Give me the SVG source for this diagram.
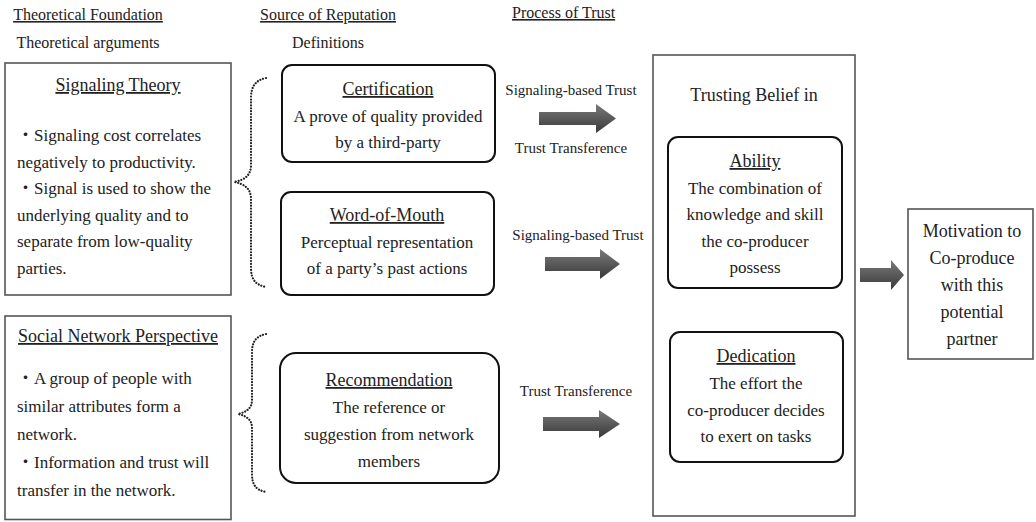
<svg xmlns="http://www.w3.org/2000/svg" width="1036" height="522" viewBox="0 0 1036 522">
<style>
text{font-family:"Liberation Serif","Times New Roman","Noto Sans CJK JP",serif;fill:#222;}
.h{font-size:16px;}
.t{font-size:18px;text-anchor:middle;}
.b{font-size:17px;}
.c{font-size:17px;text-anchor:middle;}
.l{font-size:15px;text-anchor:middle;}
.u{text-decoration:underline;}
.sq{fill:#fff;stroke:#555;stroke-width:1.6;}
.rd{fill:#fff;stroke:#111;stroke-width:2;}
.br{fill:none;stroke:#222;stroke-width:2.2;stroke-linecap:round;stroke-dasharray:0.01 2.9;}
.ar{fill:url(#g);}
</style>
<defs>
<linearGradient id="g" x1="0" y1="0" x2="0" y2="1">
<stop offset="0" stop-color="#7a7a7a"/>
<stop offset="1" stop-color="#383838"/>
</linearGradient>
</defs>
<rect width="1036" height="522" fill="#fff"/>
<g id="headers">
<text class="h u" x="88" y="20" text-anchor="middle">Theoretical Foundation</text>
<text class="h" x="88" y="48" text-anchor="middle">Theoretical arguments</text>
<text class="h u" x="328" y="20" text-anchor="middle">Source of Reputation</text>
<text class="h" x="328" y="48" text-anchor="middle">Definitions</text>
<text class="h u" x="512" y="18">Process of Trust</text>
</g>
<g id="signaling">
<rect class="sq" x="5" y="63" width="226" height="232"/>
<text class="t u" x="118" y="91">Signaling Theory</text>
<text class="b" x="17" y="141">・Signaling cost correlates</text>
<text class="b" x="17" y="167.6">negatively to productivity.</text>
<text class="b" x="17" y="194.2">・Signal is used to show the</text>
<text class="b" x="17" y="220.8">underlying quality and to</text>
<text class="b" x="17" y="247.4">separate from low-quality</text>
<text class="b" x="17" y="274">parties.</text>
</g>
<g id="social">
<rect class="sq" x="5" y="316" width="226" height="203.5"/>
<text class="t u" x="118" y="342">Social Network Perspective</text>
<text class="b" x="17" y="384">・A group of people with</text>
<text class="b" x="17" y="412">similar attributes form a</text>
<text class="b" x="17" y="440">network.</text>
<text class="b" x="17" y="468">・Information and trust will</text>
<text class="b" x="17" y="496">transfer in the network.</text>
</g>
<g id="certification">
<rect class="rd" x="282" y="65" width="213" height="97" rx="10"/>
<text class="t u" x="388" y="95">Certification</text>
<text class="c" x="388" y="122">A prove of quality provided</text>
<text class="c" x="388" y="148">by a third-party</text>
</g>
<g id="wordofmouth">
<rect class="rd" x="281" y="192" width="213" height="103" rx="10"/>
<text class="t u" x="387" y="221">Word-of-Mouth</text>
<text class="c" x="387" y="248">Perceptual representation</text>
<text class="c" x="387" y="274">of a party’s past actions</text>
</g>
<g id="recommendation">
<rect class="rd" x="280" y="353" width="219" height="130" rx="16"/>
<text class="t u" x="389" y="386">Recommendation</text>
<text class="c" x="389" y="413">The reference or</text>
<text class="c" x="389" y="440">suggestion from network</text>
<text class="c" x="389" y="467">members</text>
</g>
<g id="trusting">
<rect class="sq" x="653" y="55" width="202" height="461"/>
<text class="t" x="754" y="101">Trusting Belief in</text>
</g>
<g id="ability">
<rect class="rd" x="668" y="137" width="174" height="151" rx="10"/>
<text class="t u" x="755" y="167">Ability</text>
<text class="c" x="755" y="193.5">The combination of</text>
<text class="c" x="755" y="220">knowledge and skill</text>
<text class="c" x="755" y="246.5">the co-producer</text>
<text class="c" x="755" y="273">possess</text>
</g>
<g id="dedication">
<rect class="rd" x="670" y="332" width="173" height="130" rx="10"/>
<text class="t u" x="756" y="362">Dedication</text>
<text class="c" x="756" y="389">The effort the</text>
<text class="c" x="756" y="415.5">co-producer decides</text>
<text class="c" x="756" y="442">to exert on tasks</text>
</g>
<g id="motivation">
<rect class="sq" x="908" y="209" width="125" height="150"/>
<text class="t" x="972" y="237">Motivation to</text>
<text class="t" x="972" y="264">Co-produce</text>
<text class="t" x="972" y="291">with this</text>
<text class="t" x="972" y="318">potential</text>
<text class="t" x="972" y="345">partner</text>
</g>
<g id="connectors">
<path class="br" d="M266,78 C256,80 251,86 251,98 L251,165 C251,175 245,180 234,182 C245,184 251,189 251,199 L251,268 C251,280 256,285 266,287"/>
<path class="br" d="M266,334 C256,336 252,342 252,352 L252,400 C252,408 247,412 238,414 C247,416 252,420 252,428 L252,474 C252,485 256,490 266,492"/>
<path class="ar" d="M539,112 H596 V104 L616,118.5 L596,133 V125 H539 Z"/>
<path class="ar" d="M545,257 H600 V249 L620,264 L600,279 V271 H545 Z"/>
<path class="ar" d="M543,417 H599 V410 L620,424 L599,438 V431 H543 Z"/>
<path class="ar" d="M860,268 H891 V260 L904,275 L891,290 V282 H860 Z"/>
<text class="l" x="571" y="95">Signaling-based Trust</text>
<text class="l" x="571" y="153">Trust Transference</text>
<text class="l" x="578" y="240">Signaling-based Trust</text>
<text class="l" x="576" y="396">Trust Transference</text>
</g>
</svg>
